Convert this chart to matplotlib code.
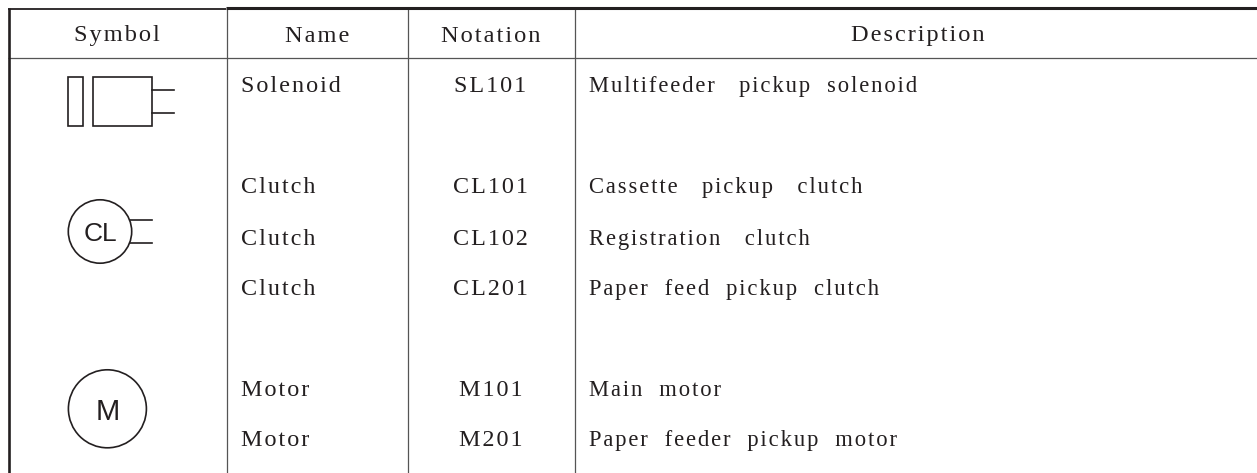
import matplotlib
matplotlib.use("Agg")
from matplotlib import pyplot as plt
from matplotlib.patches import Circle, Rectangle

W, H = 1257, 473

headers = ["Symbol", "Name", "Notation", "Description"]
names = ["Solenoid", "Clutch", "Clutch", "Clutch", "Motor", "Motor"]
notations = ["SL101", "CL101", "CL102", "CL201", "M101", "M201"]
descriptions = [
    "Multifeeder   pickup  solenoid",
    "Cassette   pickup   clutch",
    "Registration   clutch",
    "Paper  feed  pickup  clutch",
    "Main  motor",
    "Paper  feeder  pickup  motor",
]
row_y = [92, 193, 244.5, 294.5, 395.5, 446]


def spaced(s):
    # no letter spacing in matplotlib, so put hair spaces between the letters
    return "\u200a".join(s)


fig = plt.figure(figsize=(W / 100, H / 100), dpi=100)
ax = fig.add_axes([0, 0, 1, 1])
ax.set_xlim(0, W)
ax.set_ylim(H, 0)
ax.axis("off")

dark = "#231f20"
grey = "#555555"
text_style = dict(family="Liberation Serif", color=dark, va="baseline")

# table frame
for x in [226.5, 408, 574.5]:
    ax.plot([x, x], [9, H], color=grey, lw=0.9, solid_capstyle="butt")
ax.plot([8, W], [57.8, 57.8], color=grey, lw=0.9, solid_capstyle="butt")
ax.plot([8.7, 8.7], [8, H], color=dark, lw=1.9, solid_capstyle="butt")
ax.plot([8, 226], [9.1, 9.1], color=dark, lw=1.3, solid_capstyle="butt")
ax.plot([226, W], [8.5, 8.5], color=dark, lw=2.2, solid_capstyle="butt")

# header row
for x, label in zip([117, 317, 491, 918], headers):
    ax.text(x, 41.5, spaced(label), ha="center", fontsize=17.6, **text_style)

# body rows
for y, name, notation, desc in zip(row_y, names, notations, descriptions):
    ax.text(241, y, spaced(name), ha="left", fontsize=17.4, **text_style)
    ax.text(490.5, y, spaced(notation), ha="center", fontsize=17.4, **text_style)
    ax.text(589, y, spaced(desc), ha="left", fontsize=16.3, **text_style)

# solenoid symbol
sym = dict(fill=False, edgecolor=dark, lw=1.2)
ax.add_patch(Rectangle((67.7, 77), 15.6, 49, **sym))
ax.add_patch(Rectangle((92.7, 77), 59, 49, **sym))
ax.plot([152, 174], [90, 90], color=dark, lw=1.2)
ax.plot([152, 174], [112.7, 112.7], color=dark, lw=1.2)

# clutch symbol
ax.add_patch(Circle((100, 231.5), 31.7, **sym))
ax.plot([130, 152], [220, 220], color=dark, lw=1.2)
ax.plot([130, 152], [242.5, 242.5], color=dark, lw=1.2)
ax.text(100, 241, "CL", family="Liberation Sans", fontsize=19, color=dark, ha="center", va="baseline")

# motor symbol
ax.add_patch(Circle((107.4, 408.8), 39, **sym))
ax.text(107.4, 420.3, "M", family="Liberation Sans", fontsize=21, color=dark, ha="center", va="baseline")

fig.savefig("out.png", dpi=100)
